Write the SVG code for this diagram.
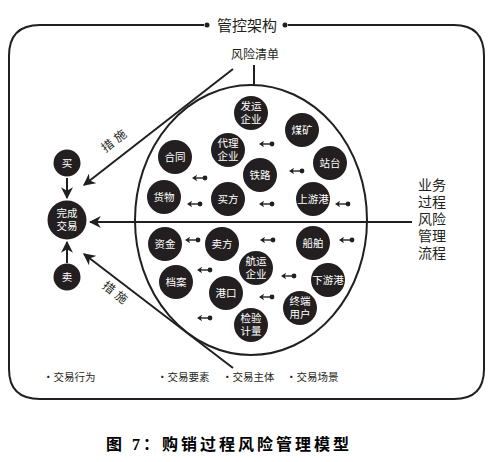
<svg xmlns="http://www.w3.org/2000/svg" width="494" height="462" viewBox="0 0 494 462">
<defs>
<style>
.t{font-family:"Noto Sans CJK SC","Noto Sans",sans-serif;fill:#231f20}
.nt{font-family:"Liberation Sans","Noto Sans CJK SC",sans-serif;fill:#fff;font-size:10.5px;text-anchor:middle}
.n circle{fill:#231f20}
.ln{stroke:#231f20;stroke-width:2;fill:none}
.sa{stroke:#231f20;stroke-width:1.4;fill:none}
</style>
<marker id="ah" viewBox="0 0 10 10" refX="9" refY="5" markerWidth="6" markerHeight="6" orient="auto-start-reverse"><path d="M0,0 L10,5 L0,10 L3,5 Z" fill="#231f20"/></marker>
<g id="sm"><path d="M-5,0 H4" class="sa"/><path d="M-8,0 L-3,-3.2 L-4.2,0 L-3,3.2 Z" fill="#231f20"/><circle cx="5" cy="0" r="2.4" fill="#231f20"/></g>
</defs>
<rect width="494" height="462" fill="#fff"/>
<g id="frame">
<path d="M204,25 H40 Q9,25 9,56 V369 Q9,399 40,399 H454 Q484,399 484,369 V56 Q484,25 454,25 H288" class="ln"/>
<circle cx="207" cy="25" r="2.5" fill="#231f20"/>
<circle cx="285" cy="25" r="2.5" fill="#231f20"/>
<text x="247" y="31" class="t" font-size="15" text-anchor="middle">管控架构</text>
</g>
<g id="ellipse">
<ellipse cx="251" cy="220" rx="116" ry="135" class="ln"/>
<text x="255" y="59" class="t" font-size="12" text-anchor="middle">风险清单</text>
</g>
<g id="connectors">
<path d="M254,65 V85" class="ln"/>
<path d="M412,222 H90" class="ln" marker-end="url(#ah)"/>
<path d="M233,69 L84,185" class="ln" marker-end="url(#ah)"/>
<path d="M233,368 L84,254" class="ln" marker-end="url(#ah)"/>
<path d="M67,178 V198" class="ln" marker-end="url(#ah)"/>
<path d="M67,263 V242" class="ln" marker-end="url(#ah)"/>
<use href="#sm" x="267" y="144"/>
<use href="#sm" x="200" y="178"/>
<use href="#sm" x="297" y="171"/>
<use href="#sm" x="195" y="204"/>
<use href="#sm" x="267" y="204"/>
<use href="#sm" x="343" y="204"/>
<use href="#sm" x="193" y="240"/>
<use href="#sm" x="268" y="240"/>
<use href="#sm" x="347" y="240"/>
<use href="#sm" x="205" y="270"/>
<use href="#sm" x="289" y="276"/>
<use href="#sm" x="267" y="297"/>
<use href="#sm" x="205" y="318"/>
</g>
<text transform="translate(118,143) rotate(-38)" class="t" font-size="12" letter-spacing="4" text-anchor="middle">措施</text>
<text transform="translate(114,297) rotate(38)" class="t" font-size="12" letter-spacing="4" text-anchor="middle">措施</text>
<g id="mai" class="n"><circle cx="67" cy="163" r="13.5"/><text x="67" y="167" class="nt">买</text></g>
<g id="wancheng" class="n"><circle cx="67" cy="220" r="19.5"/><text x="67" y="217" class="nt">完成</text><text x="67" y="230" class="nt">交易</text></g>
<g id="maic" class="n"><circle cx="67" cy="277" r="13.5"/><text x="67" y="281" class="nt">卖</text></g>
<g id="fayun" class="n"><circle cx="251" cy="113" r="17"/><text x="251" y="110" class="nt">发运</text><text x="251" y="123" class="nt">企业</text></g>
<g id="meikuang" class="n"><circle cx="302" cy="130" r="17"/><text x="302" y="134" class="nt">煤矿</text></g>
<g id="daili" class="n"><circle cx="228" cy="150" r="17"/><text x="228" y="147" class="nt">代理</text><text x="228" y="160" class="nt">企业</text></g>
<g id="hetong" class="n"><circle cx="175" cy="157" r="17"/><text x="175" y="161" class="nt">合同</text></g>
<g id="zhantai" class="n"><circle cx="330" cy="163" r="17"/><text x="330" y="167" class="nt">站台</text></g>
<g id="tielu" class="n"><circle cx="260" cy="175" r="17"/><text x="260" y="179" class="nt">铁路</text></g>
<g id="huowu" class="n"><circle cx="164" cy="197" r="17"/><text x="164" y="201" class="nt">货物</text></g>
<g id="maifang" class="n"><circle cx="228" cy="199" r="17"/><text x="228" y="203" class="nt">买方</text></g>
<g id="shangyougang" class="n"><circle cx="313" cy="199" r="17"/><text x="313" y="203" class="nt">上游港</text></g>
<g id="zijin" class="n"><circle cx="165" cy="244" r="17"/><text x="165" y="248" class="nt">资金</text></g>
<g id="maifang2" class="n"><circle cx="222" cy="244" r="17"/><text x="222" y="248" class="nt">卖方</text></g>
<g id="chuanbo" class="n"><circle cx="313" cy="243" r="17"/><text x="313" y="247" class="nt">船舶</text></g>
<g id="hangyun" class="n"><circle cx="256" cy="268" r="17"/><text x="256" y="265" class="nt">航运</text><text x="256" y="278" class="nt">企业</text></g>
<g id="dangan" class="n"><circle cx="176" cy="282" r="17"/><text x="176" y="286" class="nt">档案</text></g>
<g id="xiayougang" class="n"><circle cx="328" cy="280" r="17"/><text x="328" y="284" class="nt">下游港</text></g>
<g id="gangkou" class="n"><circle cx="226" cy="293" r="17"/><text x="226" y="297" class="nt">港口</text></g>
<g id="zhongduan" class="n"><circle cx="300" cy="308" r="17"/><text x="300" y="305" class="nt">终端</text><text x="300" y="318" class="nt">用户</text></g>
<g id="jianyan" class="n"><circle cx="251" cy="325" r="17"/><text x="251" y="322" class="nt">检验</text><text x="251" y="335" class="nt">计量</text></g>
<g id="righttext" font-family="'Liberation Sans','Noto Sans CJK SC',sans-serif" font-size="14" fill="#231f20">
<text x="418" y="190">业务</text>
<text x="418" y="207">过程</text>
<text x="418" y="224">风险</text>
<text x="418" y="241">管理</text>
<text x="418" y="258">流程</text>
</g>
<g id="legend" class="t" font-size="10.5">
<text x="43" y="381">•交易行为</text>
<text x="157" y="381">•交易要素</text>
<text x="222" y="381">•交易主体</text>
<text x="286" y="381">•交易场景</text>
</g>
<text x="229" y="450" font-family="'Liberation Serif','Noto Sans CJK SC',serif" font-weight="bold" font-size="16" letter-spacing="3" text-anchor="middle" fill="#000">图 7：购销过程风险管理模型</text>
</svg>
